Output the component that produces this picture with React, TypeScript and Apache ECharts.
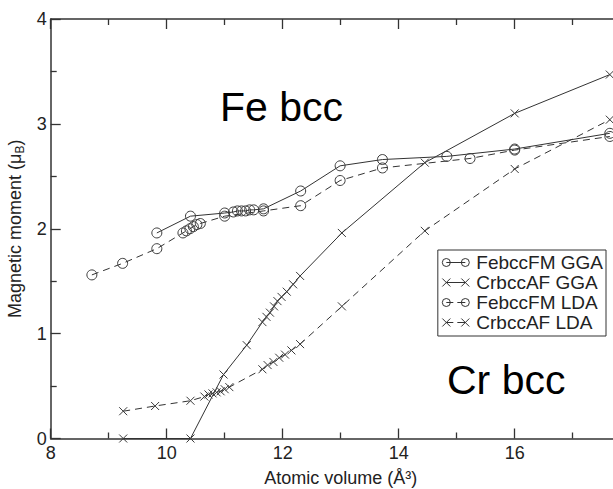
import React, { useEffect, useRef } from 'react';
import * as echarts from 'echarts';

const FONT = '"Liberation Sans", Arial, Helvetica, sans-serif';

// x range / ticks
const xMin = 8;
const xMax = 18;
const xInterval = 2;
const yMin = 0;
const yMax = 4;
const yInterval = 1;

const seriesNames = ['FebccFM GGA', 'CrbccAF GGA', 'FebccFM LDA', 'CrbccAF LDA'];

// [atomic volume, magnetic moment]
const feFmGga: [number, number][] = [
  [9.83, 1.96], [10.41, 2.12], [11.0, 2.15], [11.15, 2.16], [11.22, 2.17], [11.29, 2.17],
  [11.36, 2.17], [11.43, 2.18], [11.5, 2.18], [11.67, 2.19], [12.31, 2.36], [12.99, 2.6],
  [13.72, 2.66], [14.83, 2.69], [16.0, 2.76], [17.64, 2.91],
];

const crAfGga: [number, number][] = [
  [9.25, 0.0], [10.41, 0.0], [10.98, 0.61], [11.38, 0.89], [11.65, 1.11], [11.72, 1.16],
  [11.78, 1.2], [11.85, 1.26], [11.91, 1.31], [11.98, 1.35], [12.07, 1.4], [12.18, 1.47],
  [12.3, 1.55], [13.02, 1.96], [14.45, 2.63], [16.0, 3.1], [17.64, 3.47],
];

const feFmLda: [number, number][] = [
  [8.71, 1.56], [9.24, 1.67], [9.83, 1.81], [10.28, 1.96], [10.34, 1.98], [10.4, 2.0],
  [10.46, 2.02], [10.52, 2.04], [10.58, 2.05], [11.0, 2.12], [11.67, 2.17], [12.31, 2.22],
  [12.99, 2.46], [13.72, 2.58], [15.23, 2.67], [16.0, 2.75], [17.64, 2.88],
];

const crAfLda: [number, number][] = [
  [9.25, 0.26], [9.8, 0.31], [10.41, 0.36], [10.65, 0.4], [10.72, 0.42], [10.79, 0.43],
  [10.86, 0.44], [10.93, 0.45], [11.0, 0.47], [11.08, 0.49], [11.65, 0.66], [11.74, 0.7],
  [11.84, 0.73], [11.94, 0.77], [12.04, 0.8], [12.15, 0.84], [12.3, 0.9], [13.02, 1.26],
  [14.45, 1.98], [16.0, 2.57], [17.64, 3.04],
];

const CROSS = 'path://M0,0L10,10M0,10L10,0';
const ICON_CIRCLE_SOLID =
  'path://M0,4A4,4,0,1,1,8,4A4,4,0,1,1,0,4ZM4,4L23,4M19,4A4,4,0,1,1,27,4A4,4,0,1,1,19,4Z';
const ICON_CIRCLE_DASHED =
  'path://M0,4A4,4,0,1,1,8,4A4,4,0,1,1,0,4ZM4,4L11,4M15,4L23,4M19,4A4,4,0,1,1,27,4A4,4,0,1,1,19,4Z';
const ICON_CROSS_SOLID = 'path://M0,0L8,8M0,8L8,0M4,4L23,4M19,0L27,8M19,8L27,0';
const ICON_CROSS_DASHED = 'path://M0,0L8,8M0,8L8,0M4,4L11,4M15,4L23,4M19,0L27,8M19,8L27,0';

function makeSeries(name: string, data: [number, number][], dashed: boolean, cross: boolean) {
  return {
    name,
    type: 'line',
    data,
    showAllSymbol: true,
    symbol: cross ? CROSS : 'circle',
    symbolSize: cross ? 8 : 10,
    itemStyle: { color: 'transparent', borderColor: '#3a3a3a', borderWidth: 1 },
    lineStyle: { color: '#333', width: 1, type: dashed ? [7, 5] : 'solid' },
    emphasis: { disabled: true },
    z: 3,
  };
}

const axisLineStyle = { color: '#333', width: 1.5 };
const tickStyle = { color: '#333', width: 1.3 };

export default function App() {
  const ref = useRef<HTMLDivElement>(null);
  useEffect(() => {
    if (!ref.current) return;
    const chart = echarts.init(ref.current, null, { renderer: 'svg' });
    const xCommon = {
      type: 'value',
      min: xMin,
      max: xMax,
      interval: xInterval,
      axisLine: { show: true, onZero: false, lineStyle: axisLineStyle },
      axisTick: { show: true, inside: true, length: 10, lineStyle: tickStyle },
      minorTick: { show: true, splitNumber: 2, length: 6, lineStyle: tickStyle },
      splitLine: { show: false },
    };
    chart.setOption({
      animation: false,
      backgroundColor: '#fff',
      grid: { left: 50.7, top: 19, width: 580, height: 419.5, outerBoundsMode: 'none', containLabel: false },
      xAxis: [
        {
          ...xCommon,
          position: 'bottom',
          name: 'Atomic volume (Å³)',
          nameLocation: 'middle',
          nameGap: 30,
          nameTextStyle: { fontSize: 18, color: '#222', fontFamily: FONT },
          axisLabel: { fontSize: 18, color: '#222', margin: 5, fontFamily: FONT, showMaxLabel: false },
        },
        {
          ...xCommon,
          position: 'top',
          axisLabel: { show: false },
        },
      ],
      yAxis: [
        {
          type: 'value',
          min: yMin,
          max: yMax,
          interval: yInterval,
          name: '{a|Magnetic moment (μ}{b|B}{a|)}',
          nameLocation: 'middle',
          nameGap: 23,
          nameTextStyle: {
            color: '#222',
            fontFamily: FONT,
            rich: {
              a: { fontSize: 18, lineHeight: 22, color: '#222', fontFamily: FONT },
              b: { fontSize: 12, lineHeight: 12, verticalAlign: 'bottom', color: '#222', fontFamily: FONT },
            },
          },
          axisLine: { show: true, onZero: false, lineStyle: axisLineStyle },
          axisTick: { show: true, inside: true, length: 10, lineStyle: tickStyle },
          minorTick: { show: true, splitNumber: 2, length: 6, lineStyle: tickStyle },
          splitLine: { show: false },
          axisLabel: { fontSize: 18, color: '#222', margin: 4, fontFamily: FONT },
        },
      ],
      legend: {
        orient: 'vertical',
        right: 7,
        top: 250,
        backgroundColor: '#fff',
        borderColor: '#333',
        borderWidth: 1,
        padding: [3, 3, 4, 4],
        itemGap: 1,
        itemWidth: 27,
        itemHeight: 8,
        selectedMode: false,
        textStyle: { fontSize: 19, color: '#222', fontFamily: FONT, padding: [0, 0, 0, 2] },
        itemStyle: { color: 'transparent', borderColor: '#333', borderWidth: 1 },
        data: [
          { name: seriesNames[0], icon: ICON_CIRCLE_SOLID },
          { name: seriesNames[1], icon: ICON_CROSS_SOLID },
          { name: seriesNames[2], icon: ICON_CIRCLE_DASHED },
          { name: seriesNames[3], icon: ICON_CROSS_DASHED },
        ],
      },
      graphic: [
        {
          type: 'text',
          x: 220,
          y: 107,
          style: { text: 'Fe bcc', fontSize: 41, fontFamily: FONT, fill: '#000', verticalAlign: 'middle' },
        },
        {
          type: 'text',
          x: 447,
          y: 380,
          style: { text: 'Cr bcc', fontSize: 41, fontFamily: FONT, fill: '#000', verticalAlign: 'middle' },
        },
      ],
      series: [
        makeSeries(seriesNames[0], feFmGga, false, false),
        makeSeries(seriesNames[1], crAfGga, false, true),
        makeSeries(seriesNames[2], feFmLda, true, false),
        makeSeries(seriesNames[3], crAfLda, true, true),
      ],
    });
    return () => chart.dispose();
  }, []);
  return (
    <div
      ref={ref}
      style={{ position: 'absolute', left: 0, top: 0, width: 613, height: 489, background: '#fff' }}
    />
  );
}
